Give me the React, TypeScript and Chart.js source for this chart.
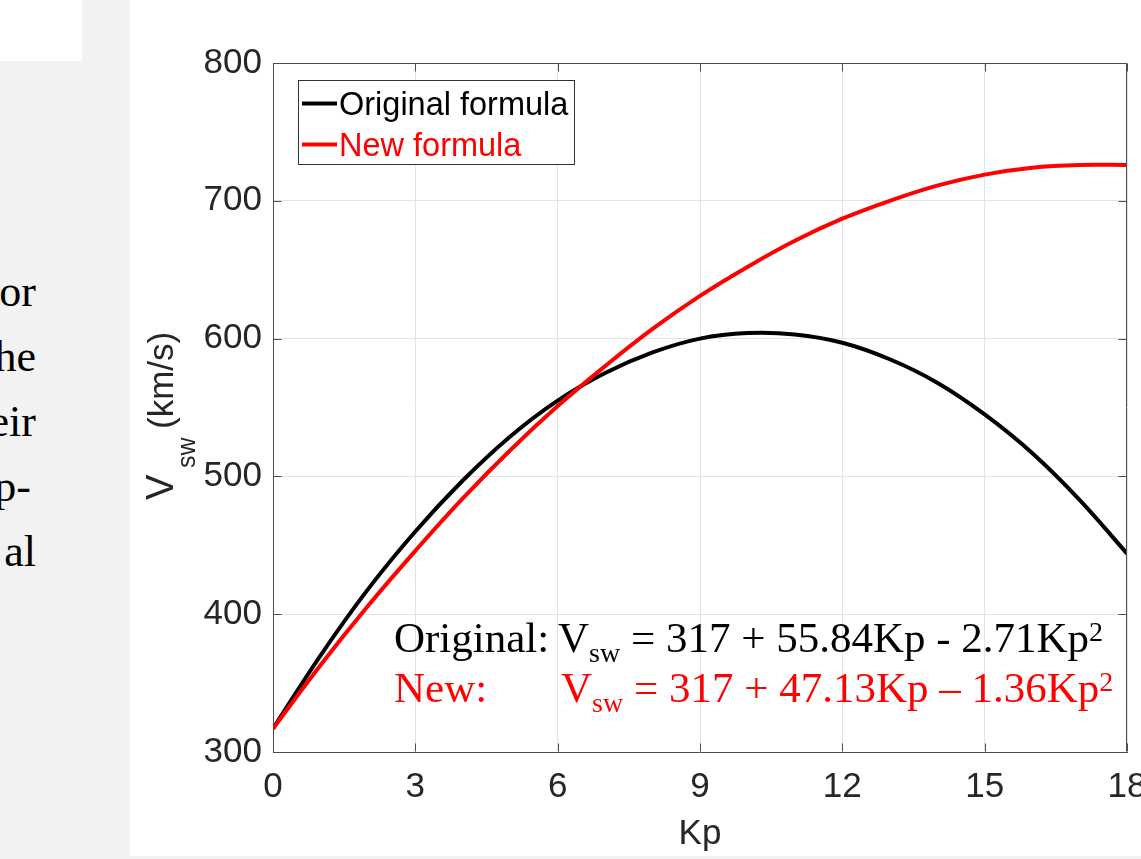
import React, { useEffect, useRef } from "react";
import { Chart, registerables } from "chart.js";

Chart.register(...registerables);

// ---- data ----
const kpValues = [0, 1, 2, 3, 4, 5, 6, 7, 8, 9, 10, 11, 12, 13, 14, 15, 16, 17, 18];
const originalV = [317, 370, 418, 460, 497, 529, 555, 575, 590, 600, 604, 603, 597, 585, 568, 545, 517, 483, 444];
const newV = [317, 363, 406, 446, 484, 519, 551, 580, 607, 631, 652, 671, 687, 700, 711, 719, 724, 726, 726];
const xTicks = [0, 3, 6, 9, 12, 15, 18];
const yTicks = [300, 400, 500, 600, 700, 800];
const seriesLabels = ["Original formula", "New formula"];
const seriesColors = ["#000000", "#ff0000"];
const xTitle = "Kp";
const yTitleMain = "V";
const yTitleSub = "sw";
const yTitleUnit = "(km/s)";
const eqLine1 = { label: "Original:", rest: " = 317 + 55.84Kp - 2.71Kp" };
const eqLine2 = { label: "New:", rest: " = 317 + 47.13Kp \u2013 1.36Kp" };
const sideWords = ["or", "he", "eir", "p-", "al"];

const SANS = "'Liberation Sans', Arial, Helvetica, sans-serif";
const SERIF = "'Liberation Serif', 'Times New Roman', Times, serif";
const AXIS_COLOR = "#262626";
const BOX_COLOR = "#4d4d4d";
const CANVAS_LEFT = 130;

const decorPlugin = {
  id: "decor",
  afterDraw(chart: any) {
    const ctx = chart.ctx as CanvasRenderingContext2D;
    const area = chart.chartArea;
    const xs = chart.scales.x;
    const ys = chart.scales.y;
    ctx.save();

    // box (top & right) and inward ticks
    ctx.strokeStyle = BOX_COLOR;
    ctx.lineWidth = 1;
    const L = Math.round(area.left) + 0.5;
    const R = Math.round(area.right) - 0.5;
    const T = Math.round(area.top) + 0.5;
    const B = Math.round(area.bottom) - 0.5;
    ctx.beginPath();
    ctx.moveTo(L, T);
    ctx.lineTo(R, T);
    ctx.lineTo(R, B);
    ctx.stroke();
    const tl = 8;
    ctx.beginPath();
    xTicks.forEach((v) => {
      const px = Math.round(xs.getPixelForValue(v)) + 0.5;
      ctx.moveTo(px, B);
      ctx.lineTo(px, B - tl);
      ctx.moveTo(px, T);
      ctx.lineTo(px, T + tl);
    });
    yTicks.forEach((v) => {
      const py = Math.round(ys.getPixelForValue(v)) + 0.5;
      ctx.moveTo(L, py);
      ctx.lineTo(L + tl, py);
      ctx.moveTo(R, py);
      ctx.lineTo(R - tl, py);
    });
    ctx.stroke();

    // y axis title: V_sw (km/s)
    ctx.save();
    ctx.translate(43, 502);
    ctx.rotate(-Math.PI / 2);
    ctx.fillStyle = AXIS_COLOR;
    ctx.textBaseline = "alphabetic";
    ctx.textAlign = "left";
    ctx.font = `38px ${SANS}`;
    ctx.fillText(yTitleMain, 2, 0);
    ctx.font = `25px ${SANS}`;
    ctx.fillText(yTitleSub, 34, 22);
    ctx.font = `35px ${SANS}`;
    ctx.fillText(yTitleUnit, 73, 0);
    ctx.restore();

    // legend
    const lx = 298 - CANVAS_LEFT;
    ctx.fillStyle = "#ffffff";
    ctx.fillRect(lx + 0.5, 80.5, 276, 84);
    ctx.strokeStyle = "#333333";
    ctx.lineWidth = 1;
    ctx.strokeRect(lx + 0.5, 80.5, 276, 84);
    const rows = [103.5, 144.5];
    const baselines = [115, 155.5];
    chart.data.datasets.forEach((ds: any, i: number) => {
      ctx.strokeStyle = ds.borderColor;
      ctx.lineWidth = 4;
      ctx.beginPath();
      ctx.moveTo(lx + 4, rows[i]);
      ctx.lineTo(lx + 39, rows[i]);
      ctx.stroke();
      ctx.fillStyle = ds.borderColor;
      ctx.font = `32.5px ${SANS}`;
      ctx.textBaseline = "alphabetic";
      ctx.textAlign = "left";
      ctx.fillText(ds.label, lx + 41, baselines[i]);
    });

    // equations
    const drawEq = (eq: { label: string; rest: string }, color: string, baseY: number, vX: number) => {
      ctx.fillStyle = color;
      ctx.textBaseline = "alphabetic";
      ctx.textAlign = "left";
      ctx.font = `43px ${SERIF}`;
      ctx.fillText(eq.label, 394 - CANVAS_LEFT, baseY);
      let x = vX - CANVAS_LEFT;
      ctx.fillText("V", x, baseY);
      x += ctx.measureText("V").width;
      ctx.font = `28px ${SERIF}`;
      ctx.fillText("sw", x, baseY + 10);
      x += ctx.measureText("sw").width;
      ctx.font = `43px ${SERIF}`;
      ctx.fillText(eq.rest, x, baseY);
      x += ctx.measureText(eq.rest).width;
      ctx.font = `28px ${SERIF}`;
      ctx.fillText("2", x, baseY - 11);
    };
    drawEq(eqLine1, "#000000", 652, 558);
    drawEq(eqLine2, "#ff0000", 702, 561);

    ctx.restore();
  },
};

function ChartPanel() {
  const ref = useRef<HTMLCanvasElement | null>(null);
  useEffect(() => {
    if (!ref.current) return;
    const tickFont = { family: SANS, size: 35 };
    const chart = new Chart(ref.current, {
      type: "line",
      data: {
        datasets: [
          {
            label: seriesLabels[0],
            data: kpValues.map((k, i) => ({ x: k, y: originalV[i] })),
            borderColor: seriesColors[0],
            backgroundColor: seriesColors[0],
            borderWidth: 4,
            pointRadius: 0,
            tension: 0.4,
            order: 2,
          },
          {
            label: seriesLabels[1],
            data: kpValues.map((k, i) => ({ x: k, y: newV[i] })),
            borderColor: seriesColors[1],
            backgroundColor: seriesColors[1],
            borderWidth: 4,
            pointRadius: 0,
            tension: 0.4,
            order: 1,
          },
        ],
      },
      options: {
        responsive: false,
        animation: false,
        events: [],
        layout: { padding: { top: 63, right: 14, left: 0, bottom: 0 } },
        plugins: { legend: { display: false }, tooltip: { enabled: false } },
        scales: {
          x: {
            type: "linear",
            min: 0,
            max: 18,
            afterBuildTicks: (s: any) => {
              s.ticks = xTicks.map((v) => ({ value: v }));
            },
            afterFit: (s: any) => {
              s.height = 104;
              s.paddingLeft = 0;
              s.paddingRight = 0;
            },
            ticks: { font: tickFont, color: AXIS_COLOR, padding: 14, maxRotation: 0, autoSkip: false },
            grid: { color: "#e3e3e3", drawTicks: false, lineWidth: 1 },
            border: { display: true, color: BOX_COLOR, width: 1 },
            title: {
              display: true,
              text: xTitle,
              font: { family: SANS, size: 35 },
              color: AXIS_COLOR,
              padding: { top: 0, bottom: 1 },
            },
          },
          y: {
            type: "linear",
            min: 300,
            max: 800,
            afterBuildTicks: (s: any) => {
              s.ticks = yTicks.map((v) => ({ value: v }));
            },
            afterFit: (s: any) => {
              s.width = 143;
              s.paddingTop = 0;
              s.paddingBottom = 0;
            },
            ticks: { font: tickFont, color: AXIS_COLOR, padding: 11 },
            grid: { color: "#e3e3e3", drawTicks: false, lineWidth: 1 },
            border: { display: true, color: BOX_COLOR, width: 1 },
          },
        },
      },
      plugins: [decorPlugin],
    } as any);
    return () => chart.destroy();
  }, []);
  return <canvas ref={ref} width={1011} height={856} style={{ display: "block", width: 1011, height: 856 }} />;
}

export default function App() {
  return (
    <div
      style={{
        position: "absolute",
        left: 0,
        top: 0,
        width: 1141,
        height: 859,
        overflow: "hidden",
        background: "#f2f2f2",
      }}
    >
      <div style={{ position: "absolute", left: 0, top: 0, width: 82, height: 61, background: "#ffffff" }} />
      {sideWords.map((w, i) => (
        <div
          key={w}
          style={{
            position: "absolute",
            right: 1141 - (w === "p-" ? 31 : 36),
            top: 307 + i * 65 - 40,
            fontFamily: SERIF,
            fontSize: 44,
            lineHeight: "50px",
            color: "#000",
            whiteSpace: "nowrap",
          }}
        >
          {w}
        </div>
      ))}
      <div style={{ position: "absolute", left: CANVAS_LEFT, top: 0, width: 1011, height: 856, background: "#ffffff" }}>
        <ChartPanel />
      </div>
    </div>
  );
}
